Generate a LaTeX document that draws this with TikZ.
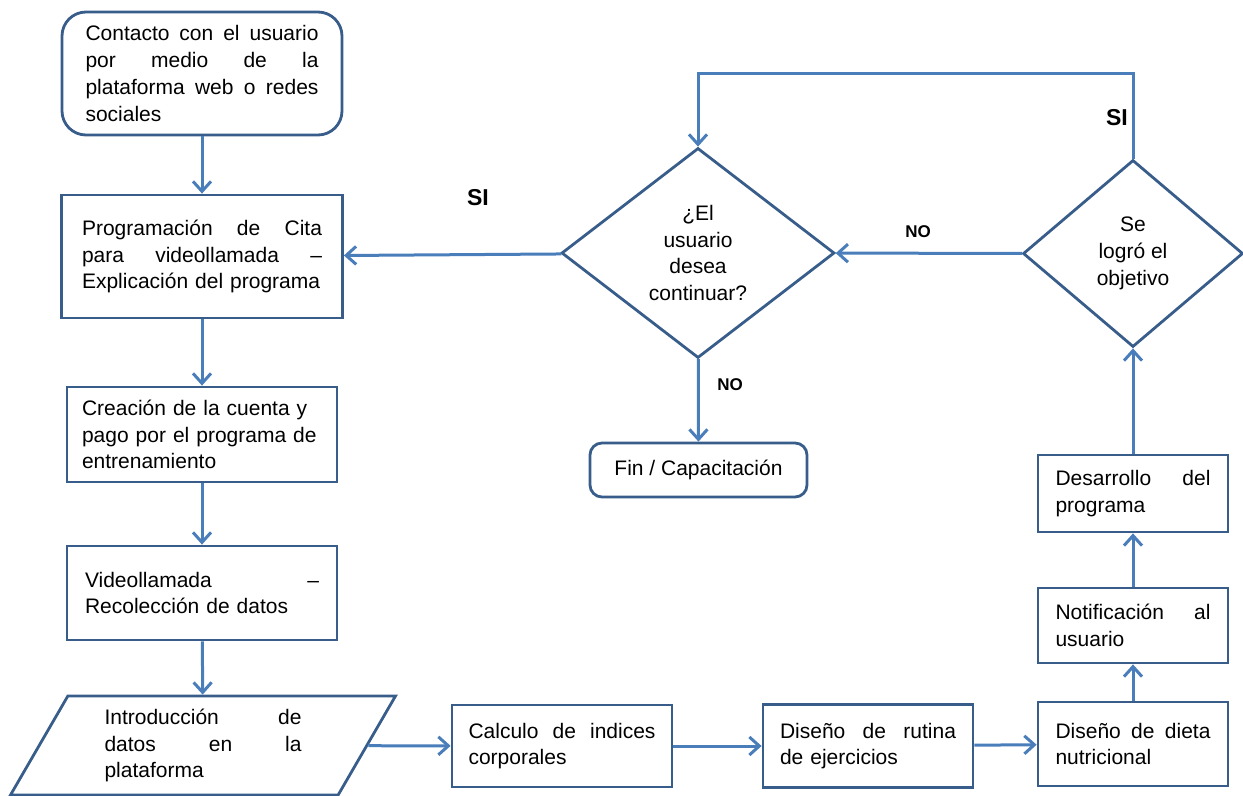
\documentclass[tikz,border=0pt]{standalone}
\usepackage{fontspec}
\setmainfont{Liberation Sans}
\usepackage{tikz}
\usetikzlibrary{shapes.geometric, arrows.meta, positioning}
\usepackage{xcolor}
\definecolor{boxblue}{RGB}{56,93,138}
\definecolor{arrowblue}{RGB}{74,126,187}
\newcommand{\boxfont}{\fontsize{10.5}{13.4}\selectfont}

\begin{document}
\begin{tikzpicture}[x=0.5pt, y=-0.5pt,
    box/.style={rectangle, draw=boxblue, line width=1.4pt, fill=white, align=left, inner sep=0pt, font=\boxfont},
    rbox/.style={box, rounded corners=12pt},
    iobox/.style={trapezium, trapezium left angle=52, trapezium right angle=128, trapezium stretches body=true, draw=boxblue, line width=1.4pt, align=left, inner sep=0pt, font=\boxfont},
    decision/.style={diamond, draw=boxblue, line width=1.4pt, align=center, inner sep=0pt, font=\boxfont},
    arrow/.style={-{Straight Barb[length=5pt, width=9pt]}, line width=1.5pt, draw=arrowblue},
    answer/.style={font=\bfseries\fontsize{11.5}{13}\selectfont},
    answersm/.style={font=\bfseries\fontsize{8.5}{10}\selectfont}
]
    \useasboundingbox (0,0) rectangle (1243,796);

    % columna izquierda
    \node[rbox, minimum width=140pt, minimum height=61.5pt, text width=116.5pt] (contacto) at (202,73.5)
        {Contacto \hfill con \hfill el \hfill usuario\\ por \hfill medio \hfill de \hfill la\\ plataforma \hfill web \hfill o \hfill redes\\ sociales};
    \node[box, minimum width=140.5pt, minimum height=61.5pt, text width=120pt] (cita) at (202,256.5)
        {Programación \hfill de \hfill Cita\\ para \hfill videollamada \hfill --\\ Explicación del programa};
    \node[box, minimum width=135pt, minimum height=47.5pt, text width=120pt] (cuenta) at (202,434.5)
        {\mbox{Creación de la cuenta y}\\ \mbox{pago por el programa de}\\ entrenamiento};
    \node[box, minimum width=135pt, minimum height=47pt, text width=117pt] (video) at (202,593)
        {Videollamada \hfill --\\ Recolección de datos};
    \node[iobox, minimum width=192.5pt, minimum height=49.5pt, text width=98.5pt] (intro) at (203,745.5)
        {Introducción \hfill de\\ datos \hfill en \hfill la\\ plataforma};

    % fila inferior
    \node[box, minimum width=110pt, minimum height=41pt, text width=93.5pt] (indices) at (562,746)
        {Calculo \hfill de \hfill indices\\ corporales};
    \node[box, minimum width=105pt, minimum height=41.5pt, text width=88pt] (rutina) at (868,746)
        {Diseño \hfill de \hfill rutina\\ de ejercicios};
    \node[box, minimum width=95pt, minimum height=42pt, text width=77.5pt] (dieta) at (1133,744)
        {Diseño \hfill de \hfill dieta\\ nutricional};

    % columna derecha
    \node[box, minimum width=95pt, minimum height=37.5pt, text width=77.5pt] (aviso) at (1133,625.5)
        {Notificación \hfill al\\ usuario};
    \node[box, minimum width=95pt, minimum height=38.5pt, text width=77.5pt] (desarrollo) at (1133,493.5)
        {Desarrollo \hfill del\\ programa};
    \node[decision, minimum width=110pt, minimum height=93.5pt] (objetivo) at (1133,253.5)
        {Se\\ logró el\\ objetivo};

    % centro
    \node[decision, minimum width=136.5pt, minimum height=105pt] (continuar) at (698,253)
        {¿El\\ usuario\\ desea\\ continuar?};
    \node[rbox, align=center, rounded corners=6pt, minimum width=108.5pt, minimum height=27pt] (fin) at (698.5,470)
        {Fin / Capacitación};

    % etiquetas
    \node[answer] (si1) at (478,198) {SI};
    \node[answer] (si2) at (1117,118) {SI};
    \node[answersm] (no1) at (918,232) {NO};
    \node[answersm] (no2) at (730,385) {NO};

    \draw[arrow] (contacto) -- (cita);
    \draw[arrow] (cita) -- (cuenta);
    \draw[arrow] (cuenta) -- (video);
    \draw[arrow] (video) -- (intro);
    \draw[arrow] (intro) -- (indices);
    \draw[arrow] (indices) -- (rutina);
    \draw[arrow] (rutina) -- (dieta);
    \draw[arrow] (dieta) -- (aviso);
    \draw[arrow] (aviso) -- (desarrollo);
    \draw[arrow] (desarrollo) -- (objetivo);
    \draw[arrow] (objetivo) -- (continuar);
    \draw[arrow] (objetivo.north) -- ++(0,-85) -| (continuar.north);
    \draw[arrow] (continuar) -- (cita);
    \draw[arrow] (continuar) -- (fin);
\end{tikzpicture}
\end{document}
